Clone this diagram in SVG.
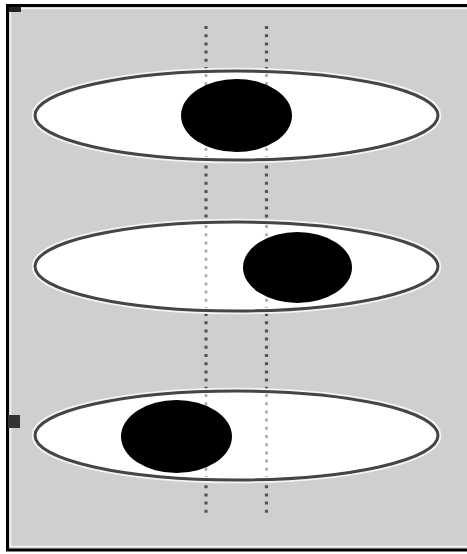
<svg xmlns="http://www.w3.org/2000/svg" width="467" height="554" viewBox="0 0 467 554">
  <style>
    .dots { fill: none; stroke: #555; stroke-width: 3.2; stroke-dasharray: 3 5.2; }
    .dots-faint { fill: none; stroke: #a8a8a8; stroke-width: 2.6; stroke-dasharray: 3 5.2; }
    .halo { fill: none; stroke: #f4f4f4; stroke-width: 6.5; }
    .plate { fill: #ffffff; stroke: #454545; stroke-width: 3; }
    .hole { fill: #000000; }
  </style>
  <rect x="0" y="0" width="467" height="554" fill="#ffffff"/>
  <rect x="7.5" y="5.5" width="470" height="544.5" fill="#cfcfcf" stroke="#000" stroke-width="3"/>
  <rect x="10.5" y="8.5" width="470" height="538" fill="none" stroke="#f2f2f2" stroke-width="1.5"/>
  <rect x="9" y="7" width="12" height="5" fill="#222"/>
  <rect x="8" y="415" width="12" height="13" fill="#333"/>

  <g id="guides">
    <line class="dots" x1="206" y1="26" x2="206" y2="515"/>
    <line class="dots" x1="266.5" y1="26" x2="266.5" y2="515"/>
  </g>

  <g id="plate1">
    <ellipse class="halo" cx="236.5" cy="115.5" rx="201.5" ry="44.5"/>
    <ellipse class="plate" cx="236.5" cy="115.5" rx="201.5" ry="44.5"/>
  </g>
  <g id="plate2">
    <ellipse class="halo" cx="236.5" cy="266.5" rx="201.5" ry="44.5"/>
    <ellipse class="plate" cx="236.5" cy="266.5" rx="201.5" ry="44.5"/>
  </g>
  <g id="plate3">
    <ellipse class="halo" cx="236.5" cy="435.5" rx="201.5" ry="44.5"/>
    <ellipse class="plate" cx="236.5" cy="435.5" rx="201.5" ry="44.5"/>
  </g>

  <g id="guides-through">
    <line class="dots-faint" x1="206" y1="74" x2="206" y2="157"/>
    <line class="dots-faint" x1="266.5" y1="74" x2="266.5" y2="157"/>
    <line class="dots-faint" x1="206" y1="225" x2="206" y2="308"/>
    <line class="dots-faint" x1="266.5" y1="225" x2="266.5" y2="308"/>
    <line class="dots-faint" x1="206" y1="394" x2="206" y2="477"/>
    <line class="dots-faint" x1="266.5" y1="394" x2="266.5" y2="477"/>
  </g>

  <g id="hole1"><ellipse class="hole" cx="236.5" cy="115.5" rx="55.5" ry="36.5"/></g>
  <g id="hole2"><ellipse class="hole" cx="297.5" cy="267.5" rx="54.5" ry="35.5"/></g>
  <g id="hole3"><ellipse class="hole" cx="176.5" cy="436.5" rx="55.5" ry="36.5"/></g>
</svg>
